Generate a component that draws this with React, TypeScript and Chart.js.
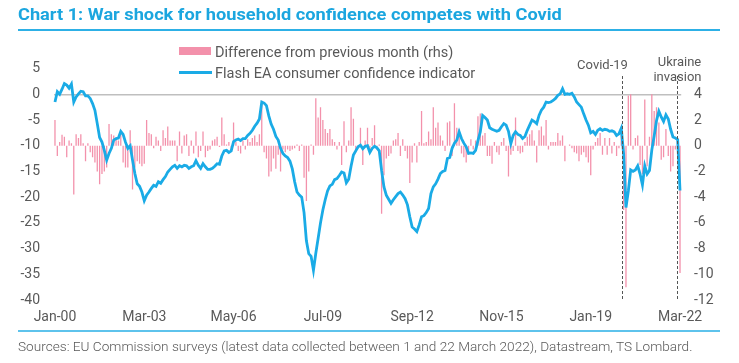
import React, { useEffect, useLayoutEffect, useRef } from "react";
import { Chart, registerables } from "chart.js";

Chart.register(...registerables);

// ---------- DATA ----------
const MONTH_NAMES = ["Jan", "Feb", "Mar", "Apr", "May", "Jun", "Jul", "Aug", "Sep", "Oct", "Nov", "Dec"];
const FIRST_YEAR = 2000;
const N_MONTHS = 267; // Jan-00 .. Mar-22

const categories: string[] = [];
for (let i = 0; i < N_MONTHS; i++) {
  const y = (FIRST_YEAR + Math.floor(i / 12)) % 100;
  categories.push(`${MONTH_NAMES[i % 12]}-${String(y).padStart(2, "0")}`);
}

const tickLabels = ["Jan-00", "Mar-03", "May-06", "Jul-09", "Sep-12", "Nov-15", "Jan-19", "Mar-22"];

// Flash EA consumer confidence indicator (lhs)
const confidence = [
  -1.5, 0.5, 0.0, 1.0, 2.1, 1.8, 1.2, 2.0, -1.5, -0.5, 0.1, 0.6, // 2000
  0.5, -0.3, -0.3, -0.8, -1.8, -3.1, -5.7, -8.4, -9.3, -10.9, -12.8, -11.5, // 2001
  -10.5, -8.9, -8.6, -8.5, -7.2, -7.8, -9.3, -10.5, -10.0, -12.8, -15.4, -17.4, // 2002
  -17.9, -19.0, -20.7, -19.6, -19.0, -18.3, -17.7, -17.9, -17.0, -17.3, -16.6, -16.0, // 2003
  -15.1, -14.6, -14.1, -13.8, -14.4, -13.9, -14.1, -13.8, -13.9, -14.4, -14.1, -13.9, // 2004
  -12.9, -13.8, -14.4, -13.5, -14.1, -14.6, -14.6, -14.4, -14.0, -13.5, -13.6, -12.0, // 2005
  -11.0, -10.9, -11.3, -11.0, -9.2, -8.9, -8.7, -9.0, -8.6, -8.6, -8.0, -7.6, // 2006
  -7.0, -6.2, -5.6, -4.8, -1.5, -1.7, -2.2, -4.2, -5.8, -6.8, -8.2, -8.9, // 2007
  -10.5, -11.5, -12.0, -12.3, -13.0, -14.5, -17.0, -19.0, -19.6, -20.0, -23.0, -28.5, // 2008
  -31.0, -31.5, -34.2, -30.9, -28.0, -25.0, -22.5, -20.5, -18.8, -17.8, -17.5, -16.6, // 2009
  -16.4, -15.8, -15.1, -15.3, -17.2, -16.5, -14.0, -11.8, -11.0, -10.2, -9.9, -10.6, // 2010
  -10.1, -10.0, -11.3, -10.5, -10.1, -10.4, -11.0, -14.8, -18.0, -19.6, -20.4, -21.2, // 2011
  -20.5, -19.9, -19.3, -19.0, -19.6, -20.3, -21.5, -23.8, -25.8, -26.2, -26.7, -25.4, // 2012
  -23.8, -23.6, -23.0, -22.2, -19.3, -18.0, -17.4, -16.5, -15.4, -15.0, -14.8, -12.5, // 2013
  -12.3, -10.5, -9.5, -8.9, -7.3, -8.6, -9.5, -10.2, -11.5, -11.4, -11.5, -10.9, // 2014
  -9.0, -7.3, -4.1, -4.5, -5.0, -6.5, -6.8, -7.0, -7.2, -7.0, -6.3, -5.7, // 2015
  -6.0, -7.2, -9.6, -8.0, -7.3, -7.8, -8.0, -8.6, -8.2, -7.0, -6.0, -5.0, // 2016
  -5.3, -5.7, -4.1, -3.1, -2.5, -1.5, -1.6, -1.5, -1.2, -0.8, -0.2, 0.1, // 2017
  1.1, 0.0, 0.1, 0.0, 0.2, -0.5, -1.5, -2.0, -2.5, -3.8, -5.0, -6.0, // 2018
  -7.5, -7.2, -7.8, -7.0, -6.7, -7.0, -6.8, -6.9, -7.2, -7.1, -7.3, -8.0, // 2019
  -7.7, -6.6, -11.6, -22.0, -18.8, -14.7, -15.0, -14.7, -13.9, -15.5, -17.6, -13.9, // 2020
  -15.5, -14.8, -10.8, -8.1, -5.1, -3.3, -4.4, -5.3, -4.0, -4.8, -6.8, -8.3, // 2021
  -8.5, -8.8, -18.7, // 2022
];

// Difference from previous month (rhs)
const difference = [
  2.0, -0.8, 0.3, 0.85, 0.7, -0.9, 0.4, 0.2, -3.8, 0.9, 0.6, 0.9, // 2000
  0.2, -1.2, 0.2, -0.5, -0.9, -1.3, -2.0, -3.0, -2.2, -2.0, -1.7, 1.7, // 2001
  0.9, 0.8, 0.6, 0.4, 1.0, -1.3, -1.7, -1.7, 1.2, -3.4, -1.7, -1.2, // 2002
  -1.4, -1.6, -1.4, 2.0, 1.0, 0.9, -0.2, 0.7, 0.4, -0.4, 1.2, 0.6, // 2003
  1.5, 0.4, 0.4, 0.4, -1.2, 1.1, -0.6, 0.8, 0.9, -0.8, 0.4, -0.6, // 2004
  1.1, -0.9, -0.4, 1.1, -0.9, -0.4, -0.3, 0.4, 0.5, 0.7, -0.1, 2.2, // 2005
  0.9, 0.1, 0.3, -0.4, 1.8, 0.3, -0.4, -0.6, 0.4, -0.3, 0.5, 0.3, // 2006
  0.6, 0.8, 0.3, 0.9, 3.5, -0.5, -1.0, -2.4, -2.0, -1.0, -1.8, -0.7, // 2007
  -2.0, -0.3, -0.5, -0.3, -0.4, -0.3, -0.2, 0.1, -0.4, 0.1, -2.5, -4.3, // 2008
  -2.0, 0.1, -0.7, 3.7, 2.2, 3.0, 2.0, 1.3, 1.0, 1.3, 0.5, 0.3, // 2009
  -0.3, 0.3, -1.5, 1.9, -0.5, 0.4, 3.0, 2.1, -0.5, -0.2, 1.4, -1.5, // 2010
  0.4, 1.4, -0.5, 0.6, 1.6, -0.3, 0.1, -5.3, -2.3, -1.0, -0.8, -0.6, // 2011
  0.4, 0.5, 1.0, -0.8, 0.5, -0.4, -1.0, -2.9, -1.3, 0.2, -1.3, 0.3, // 2012
  2.7, 0.2, 0.3, 1.1, 0.5, 3.0, 1.4, 1.8, 0.8, 0.4, -0.4, 1.8, // 2013
  1.9, -0.8, 3.3, 1.4, 1.3, -0.6, -0.9, -1.3, -0.7, 0.5, -0.3, 0.4, // 2014
  2.3, 2.5, 0.8, 1.0, -0.8, -0.8, -1.4, 0.3, -0.5, -0.7, 0.3, 0.6, // 2015
  -0.4, -2.4, -0.7, -0.4, 2.2, -0.4, -0.6, -0.5, 0.3, 0.7, 0.9, 1.2, // 2016
  0.4, -1.3, 1.2, 1.5, 0.8, 2.0, -0.3, 0.3, 0.3, 0.3, 1.0, 0.4, // 2017
  0.8, -1.2, 0.0, 0.1, -0.2, -0.5, -0.6, -1.2, -0.7, -0.5, -0.9, -1.3, // 2018
  -2.3, -0.3, 0.3, 0.6, 1.0, -0.7, 0.6, -0.7, 0.6, -0.6, 0.3, -0.8, // 2019
  -0.2, 1.2, -5.0, -11.0, 3.9, 4.0, -0.3, 0.6, 0.8, -1.5, -2.2, 3.6, // 2020
  -1.6, 0.7, 4.0, 2.7, 3.0, 1.8, -1.1, -0.9, 1.3, -0.8, -2.0, -1.6, // 2021
  -0.3, -0.4, -9.9, // 2022
];

const eventLabels = [["Covid-19"], ["Ukraine", "invasion"]];
const eventPositions = [241.3, 264.7]; // month index where dashed line sits

const TITLE = "Chart 1: War shock for household confidence competes with Covid";
const SOURCE =
  "Sources: EU Commission surveys (latest data collected between 1 and 22 March 2022), Datastream, TS Lombard.";
const LEGEND_BARS = "Difference from previous month (rhs)";
const LEGEND_LINE = "Flash EA consumer confidence indicator";

// ---------- STYLE ----------
const BLUE = "#1AABE6";
const PINK = "#F391AB";
const GREY_TEXT = "#595959";
const FONT = "Roboto, 'Noto Sans', sans-serif";

function FitText(props: { text: string; width: number; style: React.CSSProperties }) {
  const ref = useRef<HTMLSpanElement | null>(null);
  useLayoutEffect(() => {
    const el = ref.current;
    if (!el) return;
    el.style.transform = "none";
    const w = el.offsetWidth;
    if (w > 0) el.style.transform = `scaleX(${props.width / w})`;
  }, [props.text, props.width]);
  return (
    <span
      ref={ref}
      style={{
        display: "inline-block",
        whiteSpace: "nowrap",
        transformOrigin: "left center",
        ...props.style,
      }}
    >
      {props.text}
    </span>
  );
}

const eventPlugin = {
  id: "eventLines",
  afterDatasetsDraw(chart: any) {
    const { ctx, chartArea } = chart;
    const x = chart.scales.x;
    ctx.save();
    eventPositions.forEach((pos, k) => {
      const i0 = Math.floor(pos);
      const f = pos - i0;
      const p0 = x.getPixelForValue(i0);
      const p1 = x.getPixelForValue(i0 + 1);
      const px = Math.round(p0 + (p1 - p0) * f) + 0.5;
      ctx.strokeStyle = "#555555";
      ctx.lineWidth = 1;
      ctx.setLineDash([3, 2]);
      ctx.beginPath();
      ctx.moveTo(px, 76);
      ctx.lineTo(px, chartArea.bottom);
      ctx.stroke();
      ctx.setLineDash([]);
      ctx.fillStyle = GREY_TEXT;
      ctx.font = `13px ${FONT}`;
      ctx.textAlign = "center";
      ctx.textBaseline = "middle";
      const lines = eventLabels[k];
      if (lines.length === 1) {
        ctx.fillText(lines[0], px - 20, 66);
      } else {
        ctx.fillText(lines[0], px + 2, 62.5);
        ctx.fillText(lines[1], px, 77.5);
      }
    });
    ctx.restore();
  },
};

export default function App() {
  const canvasRef = useRef<HTMLCanvasElement | null>(null);

  useEffect(() => {
    const canvas = canvasRef.current;
    if (!canvas) return;
    const chart = new Chart(canvas, {
      type: "bar",
      data: {
        labels: categories,
        datasets: [
          {
            type: "line",
            label: LEGEND_LINE,
            data: confidence,
            yAxisID: "y",
            borderColor: BLUE,
            backgroundColor: BLUE,
            borderWidth: 2.8,
            pointRadius: 0,
            tension: 0,
            order: 0,
          } as any,
          {
            type: "bar",
            label: LEGEND_BARS,
            data: difference,
            yAxisID: "y1",
            backgroundColor: PINK,
            borderWidth: 0,
            barPercentage: 0.55,
            categoryPercentage: 1,
            order: 1,
          },
        ],
      },
      plugins: [eventPlugin],
      options: {
        responsive: false,
        animation: false,
        devicePixelRatio: 1,
        layout: { padding: { top: 68.6, bottom: 33, left: 0, right: 0 } },
        plugins: {
          legend: { display: false },
          tooltip: { enabled: false },
          title: { display: false },
        },
        scales: {
          x: {
            type: "category",
            offset: true,
            grid: { display: false, drawTicks: false },
            border: { display: false },
            ticks: {
              autoSkip: false,
              maxRotation: 0,
              minRotation: 0,
              padding: 9,
              color: GREY_TEXT,
              font: { family: FONT, size: 14 },
              callback: (_v: any, i: number) => (tickLabels.includes(categories[i]) ? categories[i] : ""),
            },
            afterFit: (s: any) => {
              s.height = 30;
            },
          },
          y: {
            position: "left",
            min: -40,
            max: 5,
            ticks: {
              stepSize: 5,
              padding: 13.8,
              color: GREY_TEXT,
              font: { family: FONT, size: 14 },
            },
            grid: {
              drawTicks: false,
              color: (c: any) => (c.tick && c.tick.value === 0 ? "#BFBFBF" : "rgba(0,0,0,0)"),
              lineWidth: 1.5,
            },
            border: { display: false },
            afterFit: (s: any) => {
              s.width = 53.8;
            },
          },
          y1: {
            position: "right",
            min: -12,
            max: 6,
            ticks: {
              stepSize: 2,
              padding: 12.8,
              color: GREY_TEXT,
              font: { family: FONT, size: 14 },
              callback: (v: any) => (Number(v) > 4 ? "" : String(v)),
            },
            grid: { display: false, drawTicks: false },
            border: { display: false },
            afterFit: (s: any) => {
              s.width = 57.8;
            },
          },
        },
      } as any,
    });
    return () => chart.destroy();
  }, []);

  return (
    <div style={{ position: "relative", width: 739, height: 363, background: "#ffffff", overflow: "hidden", fontFamily: FONT }}>
      <style>{`body{margin:0;background:#fff}`}</style>
      <canvas
        ref={canvasRef}
        width={739}
        height={363}
        style={{ position: "absolute", left: 0, top: 0, width: 739, height: 363 }}
      />
      {/* Title */}
      <div style={{ position: "absolute", left: 18, top: 4, lineHeight: "20px" }}>
        <FitText text={TITLE} width={544} style={{ fontSize: 17, fontWeight: 700, color: "#1BA6DF" }} />
      </div>
      <div style={{ position: "absolute", left: 18, top: 29, width: 702, height: 1.5, background: "#2DB0E6" }} />
      {/* Legend */}
      <div style={{ position: "absolute", left: 179, top: 47, width: 32, height: 8, background: PINK }} />
      <div style={{ position: "absolute", left: 215, top: 42, lineHeight: "20px" }}>
        <FitText text={LEGEND_BARS} width={238} style={{ fontSize: 14, color: GREY_TEXT }} />
      </div>
      <div style={{ position: "absolute", left: 179, top: 71, width: 33, height: 2.6, background: BLUE }} />
      <div style={{ position: "absolute", left: 215, top: 62.5, lineHeight: "20px" }}>
        <FitText text={LEGEND_LINE} width={260} style={{ fontSize: 14, color: GREY_TEXT }} />
      </div>
      {/* Footer */}
      <div style={{ position: "absolute", left: 18, top: 330, width: 702, height: 1.5, background: "#5EC3EC" }} />
      <div style={{ position: "absolute", left: 18, top: 336, lineHeight: "20px" }}>
        <FitText text={SOURCE} width={674} style={{ fontSize: 13, fontWeight: 300, color: GREY_TEXT }} />
      </div>
    </div>
  );
}
